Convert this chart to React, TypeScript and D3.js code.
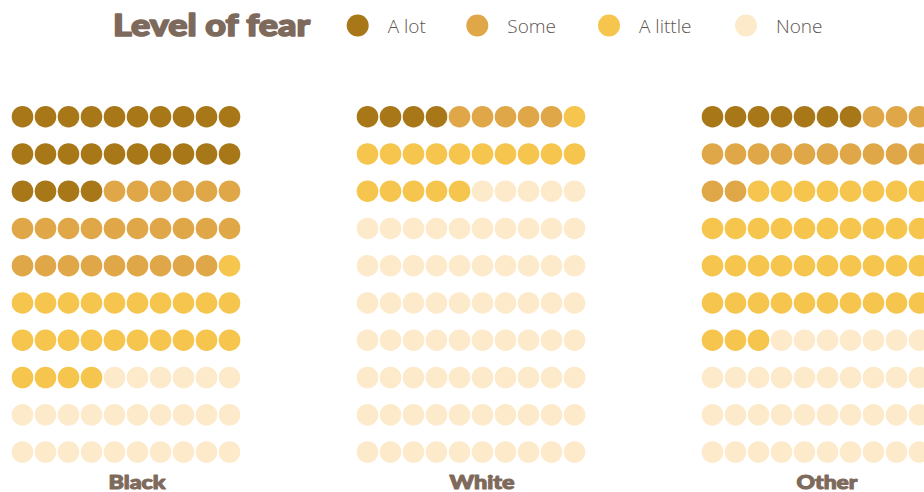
import React from "react";
import * as d3 from "d3";

const groups = ["Black", "White", "Other"];
const levels = ["A lot", "Some", "A little", "None"];
const blackCounts = [24, 25, 25, 26];
const whiteCounts = [4, 5, 16, 75];
const otherCounts = [7, 15, 41, 37];
const colors = ["#a87818", "#dfa748", "#f5c54e", "#fdeaca"];
const counts = [blackCounts, whiteCounts, otherCounts];
const labelWidths = [57, 65, 61];

const W = 924;
const H = 492;

export default function App() {
  const groupX = d3.scalePoint<string>().domain(groups).range([0, 690]);
  const col = d3.scaleLinear().domain([0, 9]).range([22.5, 229.5]);
  const row = d3.scaleLinear().domain([0, 9]).range([116.7, 452]);
  const color = d3.scaleOrdinal<string, string>().domain(levels).range(colors);

  const legendCircleX = [357.7, 477.3, 609, 746];

  return (
    <svg
      width={W}
      height={H}
      style={{ position: "absolute", left: 0, top: 0, display: "block", background: "#fff" }}
    >
      <text
        x={113}
        y={36}
        fill="#7e6a5c"
        stroke="#7e6a5c"
        strokeWidth={1.6}
        strokeLinejoin="round"
        fontFamily="Lato, 'Open Sans', sans-serif"
        fontWeight={900}
        fontSize={31}
        textLength={197}
        lengthAdjust="spacingAndGlyphs"
      >
        Level of fear
      </text>
      {levels.map((lv, i) => (
        <g key={lv}>
          <circle cx={legendCircleX[i]} cy={25.5} r={11} fill={color(lv)} />
          <text
            x={legendCircleX[i] + 30}
            y={33}
            fill="#5e5550"
            fontFamily="'Open Sans', Lato, sans-serif"
            fontWeight={300}
            fontSize={19}
          >
            {lv}
          </text>
        </g>
      ))}
      {groups.map((g, gi) => {
        const cells: string[] = [];
        counts[gi].forEach((c, li) => {
          for (let k = 0; k < c; k++) cells.push(levels[li]);
        });
        const gx = groupX(g) ?? 0;
        return (
          <g key={g} transform={`translate(${gx},0)`}>
            {cells.map((lv, idx) => (
              <circle
                key={idx}
                cx={col(idx % 10)}
                cy={row(Math.floor(idx / 10))}
                r={10.8}
                fill={color(lv)}
              />
            ))}
            <text
              x={(col(0) + col(9)) / 2 + 11}
              y={489}
              textAnchor="middle"
              fill="#7e6a5c"
              stroke="#7e6a5c"
              strokeWidth={1}
              strokeLinejoin="round"
              fontFamily="Lato, 'Open Sans', sans-serif"
              fontWeight={900}
              fontSize={19}
              textLength={labelWidths[gi]}
              lengthAdjust="spacingAndGlyphs"
            >
              {g}
            </text>
          </g>
        );
      })}
    </svg>
  );
}
